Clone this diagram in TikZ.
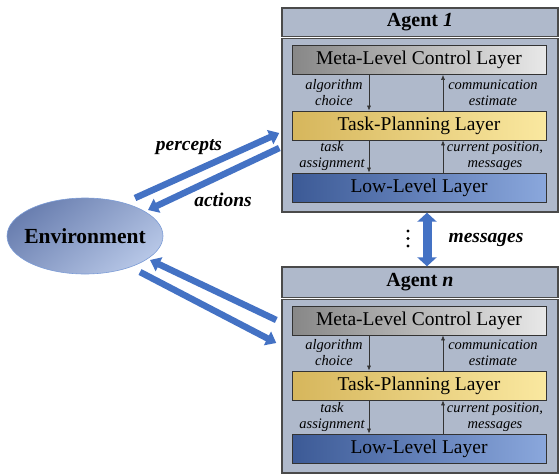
\documentclass[tikz,border=0pt]{standalone}
\usepackage{fontspec}
\setmainfont{Liberation Serif}
\usetikzlibrary{arrows.meta,shapes.geometric}
\definecolor{agentfill}{HTML}{AFB9CB}
\definecolor{agentline}{HTML}{4A4A4A}
\definecolor{bigblue}{HTML}{4472C4}

\begin{document}
\begin{tikzpicture}[x=1pt,y=1pt]
\tikzstyle{every node}+=[inner sep=0pt]
\tikzstyle{agentbox}=[draw=agentline,line width=1.4pt,fill=agentfill,rectangle,minimum width=276pt]
\tikzstyle{layer}=[draw=black!80,line width=0.7pt,rectangle,minimum width=254pt,minimum height=29pt,font=\fontsize{19.5}{22}\selectfont]
\tikzstyle{metafill}=[left color=black!47,right color=black!9]
\tikzstyle{taskfill}=[left color={rgb,255:red,214;green,182;blue,92},right color={rgb,255:red,250;green,232;blue,160}]
\tikzstyle{lowfill}=[left color={rgb,255:red,60;green,90;blue,150},right color={rgb,255:red,138;green,167;blue,220}]
\tikzstyle{lbl}=[font=\fontsize{14.5}{16}\selectfont\itshape,align=center]
\tikzstyle{thin}=[draw=black!80,line width=0.6pt,-{Latex[length=5pt,width=4pt]}]
\tikzstyle{bigarrow}=[draw=bigblue,line width=6.5pt,-{Triangle[length=10pt,width=15pt]}]
\tikzstyle{tag}=[font=\fontsize{19.5}{22}\selectfont\bfseries\itshape]
\useasboundingbox (0,0) rectangle (559,-474);
% agent 1
\node [agentbox,minimum height=204pt] (agentA) at (420,-110) {};
\node (titleA) at (420,-22) {\fontsize{20}{22}\selectfont\bfseries Agent \textit{1}};
\draw [agentline,line width=0.9pt,double distance=1.6pt] (agentA.west |- 0,-37.5) -- (agentA.east |- 0,-37.5);
\node [layer,metafill] (metaA) at (419,-60) {Meta-Level Control Layer};
\node [layer,taskfill] (taskA) at (419,-125.5) {Task-Planning Layer};
\node [layer,lowfill] (lowA) at (419,-187.5) {Low-Level Layer};
\draw [thin] ([xshift=-50pt]metaA.south) -- ([xshift=-50pt]taskA.north);
\draw [thin] ([xshift=24pt]taskA.north) -- ([xshift=24pt]metaA.south);
\draw [thin] ([xshift=-50pt]taskA.south) -- ([xshift=-50pt]lowA.north);
\draw [thin] ([xshift=24pt]lowA.north) -- ([xshift=24pt]taskA.south);
\node [lbl] (algoA) at (334,-93) {algorithm\\choice};
\node [lbl] (commA) at (493,-93) {communication\\estimate};
\node [lbl] (assignA) at (332,-156) {task\\assignment};
\node [lbl] (posA) at (495,-156) {current position,\\messages};
% agent n
\node [agentbox,minimum height=206pt] (agentB) at (420,-370) {};
\node (titleB) at (420,-282) {\fontsize{20}{22}\selectfont\bfseries Agent \textit{n}};
\draw [agentline,line width=0.9pt,double distance=1.6pt] (agentB.west |- 0,-298.5) -- (agentB.east |- 0,-298.5);
\node [layer,metafill] (metaB) at (419,-320.5) {Meta-Level Control Layer};
\node [layer,taskfill] (taskB) at (419,-385.5) {Task-Planning Layer};
\node [layer,lowfill] (lowB) at (419,-448.5) {Low-Level Layer};
\draw [thin] ([xshift=-50pt]metaB.south) -- ([xshift=-50pt]taskB.north);
\draw [thin] ([xshift=24pt]taskB.north) -- ([xshift=24pt]metaB.south);
\draw [thin] ([xshift=-50pt]taskB.south) -- ([xshift=-50pt]lowB.north);
\draw [thin] ([xshift=24pt]lowB.north) -- ([xshift=24pt]taskB.south);
\node [lbl] (algoB) at (334,-353) {algorithm\\choice};
\node [lbl] (commB) at (493,-353) {communication\\estimate};
\node [lbl] (assignB) at (332,-417) {task\\assignment};
\node [lbl] (posB) at (495,-417) {current position,\\messages};
% environment
\node [ellipse,draw=bigblue!70,line width=0.6pt,inner sep=-6pt,top color={rgb,255:red,106;green,127;blue,176},bottom color={rgb,255:red,182;green,198;blue,230},shading angle=40,minimum width=156pt,minimum height=76pt,font=\fontsize{21.5}{24}\selectfont\bfseries] (env) at (85,-236) {Environment};
\coordinate (envA) at (135,-198);
\coordinate (envB) at (148,-210);
\coordinate (envC) at (150,-260);
\coordinate (envD) at (140,-272);
\draw [bigarrow] (envA) -- ([yshift=-23pt,xshift=-2pt]agentA.west);
\draw [bigarrow] ([yshift=-38pt,xshift=-2pt]agentA.west) -- (envB);
\draw [bigarrow] ([yshift=50pt,xshift=-5pt]agentB.west) -- (envC);
\draw [bigarrow] (envD) -- ([yshift=27pt,xshift=-5pt]agentB.west);
\node [tag] (percepts) at (189,-147) {percepts};
\node [tag] (actions) at (223,-200) {actions};
% messages between agents
\draw [draw=bigblue,line width=9pt,{Triangle[length=9pt,width=19pt]}-{Triangle[length=9pt,width=19pt]}] ([xshift=7pt]agentA.south) -- ([xshift=7pt]agentB.north);
\fill (408,-231) circle (1.6) (408,-238.5) circle (1.6) (408,-246) circle (1.6);
\node [tag] (msg) at (486,-240) {messages};
\end{tikzpicture}
\end{document}
